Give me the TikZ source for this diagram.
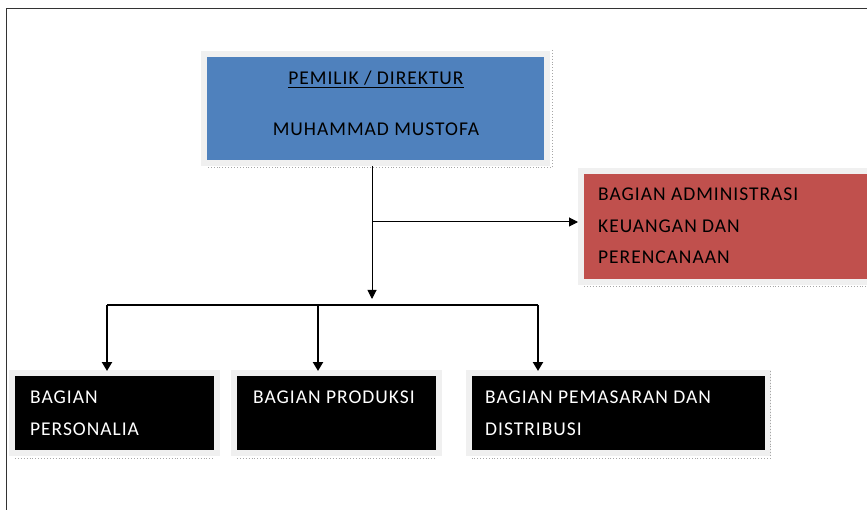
\documentclass[tikz,border=0pt]{standalone}
\usepackage{fontspec}
\setmainfont{Carlito}
\newfontfamily\unitfont[LetterSpace=5]{Carlito}
\usepackage{xcolor}
\usetikzlibrary{arrows.meta}
\definecolor{ownerblue}{HTML}{4F81BD}
\definecolor{adminred}{HTML}{C0504D}

\begin{document}
\begin{tikzpicture}[x=1pt, y=-1pt,
    unitbox/.style={rectangle, inner sep=0pt, anchor=north west,
        preaction={draw=black!6, line width=12pt}},
    unittext/.style={inner sep=0pt, anchor=north west, align=left,
        font=\unitfont\fontsize{19.5}{31.5}\selectfont},
    haloline/.style={black!35, dotted, line width=0.9pt},
    arr/.style={-{Triangle[width=9pt,length=9pt]}},
    bus/.style={line width=1.3pt},
    drop/.style={-{Triangle[width=10pt,length=9pt]}, line width=2.4pt}]
    \useasboundingbox (0,0) rectangle (867,510);
    \draw[black!80, line width=1pt] (867,9) -- (6,9) -- (6,510);

    % boxes
    \node[unitbox, fill=ownerblue, minimum width=337pt, minimum height=103pt] (owner) at (207,57) {};
    \node[unitbox, fill=adminred, minimum width=290pt, minimum height=105pt] (admin) at (584,174) {};
    \node[unitbox, fill=black, minimum width=199pt, minimum height=74pt] (staff) at (15,376) {};
    \node[unitbox, fill=black, minimum width=199pt, minimum height=74pt] (prod) at (237,376) {};
    \node[unitbox, fill=black, minimum width=293pt, minimum height=74pt] (sales) at (472,376) {};

    \draw[haloline] ([xshift=8pt,yshift=7pt]owner.north east) |- ([yshift=-7pt]owner.south west);
    \draw[haloline] ([yshift=-7pt]admin.south west) -- ([yshift=-7pt]admin.south east);
    \draw[haloline] ([yshift=-8pt]staff.south west) -- ([yshift=-8pt]staff.south east);
    \draw[haloline] ([yshift=-8pt]prod.south west) -- ([yshift=-8pt]prod.south east);
    \draw[haloline] ([xshift=5pt,yshift=5pt]sales.north east) |- ([yshift=-8pt]sales.south west);

    % texts
    \node[unittext, anchor=north, align=center] (ownertext) at (376,71)
        {\underline{PEMILIK / DIREKTUR}\\[19pt]MUHAMMAD MUSTOFA};
    \node[unittext] (admintext) at (598,188)
        {BAGIAN ADMINISTRASI\\KEUANGAN DAN\\PERENCANAAN};
    \node[unittext, text=white] (stafftext) at (30,391) {BAGIAN\\PERSONALIA};
    \node[unittext, text=white] (prodtext) at (253,391) {BAGIAN PRODUKSI};
    \node[unittext, text=white] (salestext) at (485,391) {BAGIAN PEMASARAN DAN\\DISTRIBUSI};

    % connectors
    \coordinate (split) at (372,222);
    \coordinate (busmid) at (372,305);
    \coordinate (busleft) at (107,305);
    \coordinate (buscentre) at (318,305);
    \coordinate (busright) at (538,305);
    \draw[arr, line width=1pt] ([yshift=-6pt]owner.south -| split) -- ([yshift=6pt]busmid);
    \draw[arr, line width=1pt] (split) -- ([xshift=-6pt]admin.west |- split);
    \draw[bus] (busleft) -- (busright);
    \draw[drop] (busleft) -- ([yshift=5pt]staff.north -| busleft);
    \draw[drop] (buscentre) -- ([yshift=5pt]prod.north -| buscentre);
    \draw[drop] (busright) -- ([yshift=5pt]sales.north -| busright);
\end{tikzpicture}
\end{document}
